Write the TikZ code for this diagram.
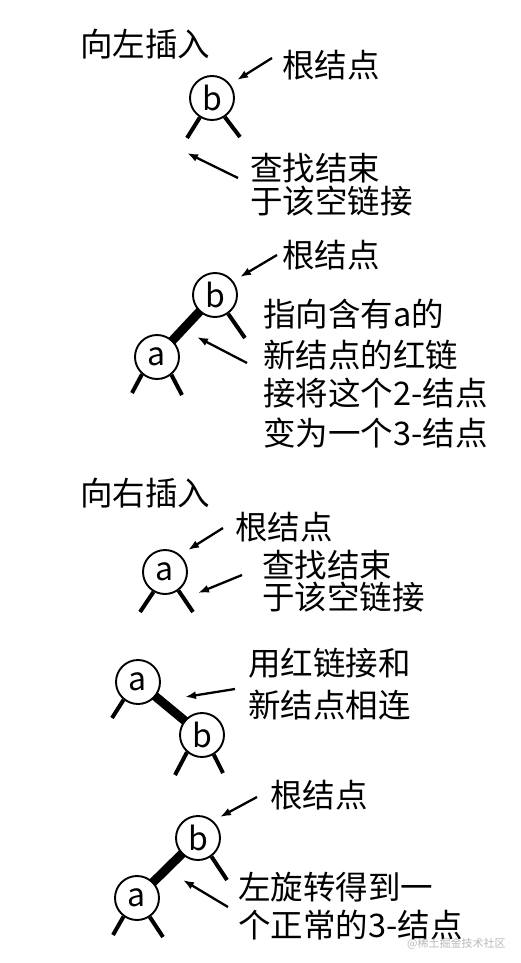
\documentclass[tikz,border=0pt]{standalone}
\usepackage{fontspec}
\setmainfont{Noto Sans CJK SC}
\usetikzlibrary{arrows.meta,backgrounds}
\tikzset{
  tnode/.style={circle,draw=black,line width=1.9pt,fill=white,minimum size=44pt,inner sep=0pt,font=\fontsize{32}{32}\selectfont},
  lbl/.style={anchor=west,inner sep=0pt,font=\fontsize{32.5}{38}\selectfont},
  legline/.style={line width=4pt},
  redlink/.style={line width=9pt},
  arr/.style={line width=2.3pt,-{Latex[length=11pt,width=8pt]}},
  wm/.style={anchor=west,inner sep=0pt,text=black!28,font=\fontsize{11}{11}\selectfont}
}
\begin{document}
\begin{tikzpicture}[x=1pt,y=-1pt]
\useasboundingbox (0,0) rectangle (521,963);
% ---------- section 1 ----------
\node[lbl] (title1) at (80,44) {向左插入};
\node[tnode] (b1) at (212,98) {b};
\node[lbl] (root1) at (282,65) {根结点};
\coordinate (r1s) at (272,58); \coordinate (r1e) at (237,80);
\draw[arr] (r1s) -- (r1e);
\coordinate (b1l) at (187,138); \coordinate (b1r) at (240,137);
\draw[legline] (b1.238) -- (b1l);
\draw[legline] (b1.304) -- (b1r);
\node[lbl] (s1a) at (250,168) {查找结束};
\node[lbl] (s1b) at (250,201) {于该空链接};
\coordinate (s1s) at (238,178); \coordinate (s1e) at (187,153);
\draw[arr] (s1s) -- (s1e);
% ---------- section 2 ----------
\node[lbl] (root2) at (282,255) {根结点};
\coordinate (r2s) at (277,255); \coordinate (r2e) at (240,277);
\draw[arr] (r2s) -- (r2e);
\node[tnode] (b2) at (215,295) {b};
\node[tnode] (a2) at (157,357) {a};
\begin{scope}[on background layer]
\draw[redlink] (a2.center) -- (b2.center);
\end{scope}
\coordinate (b2r) at (245,338);
\draw[legline] (b2.305) -- (b2r);
\coordinate (a2l) at (132,393); \coordinate (a2r) at (182,395);
\draw[legline] (a2.229) -- (a2l);
\draw[legline] (a2.309) -- (a2r);
\coordinate (m2s) at (247,363); \coordinate (m2e) at (197,337);
\draw[arr] (m2s) -- (m2e);
\node[lbl] (t2a) at (263,314) {指向含有a的};
\node[lbl] (t2b) at (263,355) {新结点的红链};
\node[lbl] (t2c) at (263,393) {接将这个2-结点};
\node[lbl] (t2d) at (263,433) {变为一个3-结点};
% ---------- section 3 ----------
\node[lbl] (title2) at (80,493) {向右插入};
\node[lbl] (root3) at (235,527) {根结点};
\coordinate (r3s) at (223,528); \coordinate (r3e) at (188,550);
\draw[arr] (r3s) -- (r3e);
\node[tnode] (a3) at (165,572) {a};
\coordinate (a3l) at (140,612); \coordinate (a3r) at (193,612);
\draw[legline] (a3.240) -- (a3l);
\draw[legline] (a3.306) -- (a3r);
\node[lbl] (s3a) at (262,565) {查找结束};
\node[lbl] (s3b) at (262,597) {于该空链接};
\coordinate (s3s) at (242,575); \coordinate (s3e) at (198,593);
\draw[arr] (s3s) -- (s3e);
% ---------- section 4 ----------
\node[tnode] (a4) at (138,682) {a};
\node[tnode] (b4) at (202,735) {b};
\begin{scope}[on background layer]
\draw[redlink] (a4.center) -- (b4.center);
\end{scope}
\coordinate (a4l) at (112,718);
\draw[legline] (a4.231) -- (a4l);
\coordinate (b4l) at (175,775); \coordinate (b4r) at (223,773);
\draw[legline] (b4.229) -- (b4l);
\draw[legline] (b4.301) -- (b4r);
\coordinate (m4s) at (235,689); \coordinate (m4e) at (185,697);
\draw[arr] (m4s) -- (m4e);
\node[lbl] (t4a) at (248,663) {用红链接和};
\node[lbl] (t4b) at (248,705) {新结点相连};
% ---------- section 5 ----------
\node[lbl] (root5) at (270,795) {根结点};
\coordinate (r5s) at (257,797); \coordinate (r5e) at (220,817);
\draw[arr] (r5s) -- (r5e);
\node[tnode] (b5) at (198,838) {b};
\node[tnode] (a5) at (137,898) {a};
\begin{scope}[on background layer]
\draw[redlink] (a5.center) -- (b5.center);
\end{scope}
\coordinate (b5r) at (227,880);
\draw[legline] (b5.306) -- (b5r);
\coordinate (a5l) at (113,935); \coordinate (a5r) at (163,937);
\draw[legline] (a5.234) -- (a5l);
\draw[legline] (a5.304) -- (a5r);
\coordinate (m5s) at (228,907); \coordinate (m5e) at (183,880);
\draw[arr] (m5s) -- (m5e);
\node[lbl] (t5a) at (238,887) {左旋转得到一};
\node[lbl] (t5b) at (238,925) {个正常的3-结点};
\node[wm] (wm) at (407,944) {@稀土掘金技术社区};
\end{tikzpicture}
\end{document}
